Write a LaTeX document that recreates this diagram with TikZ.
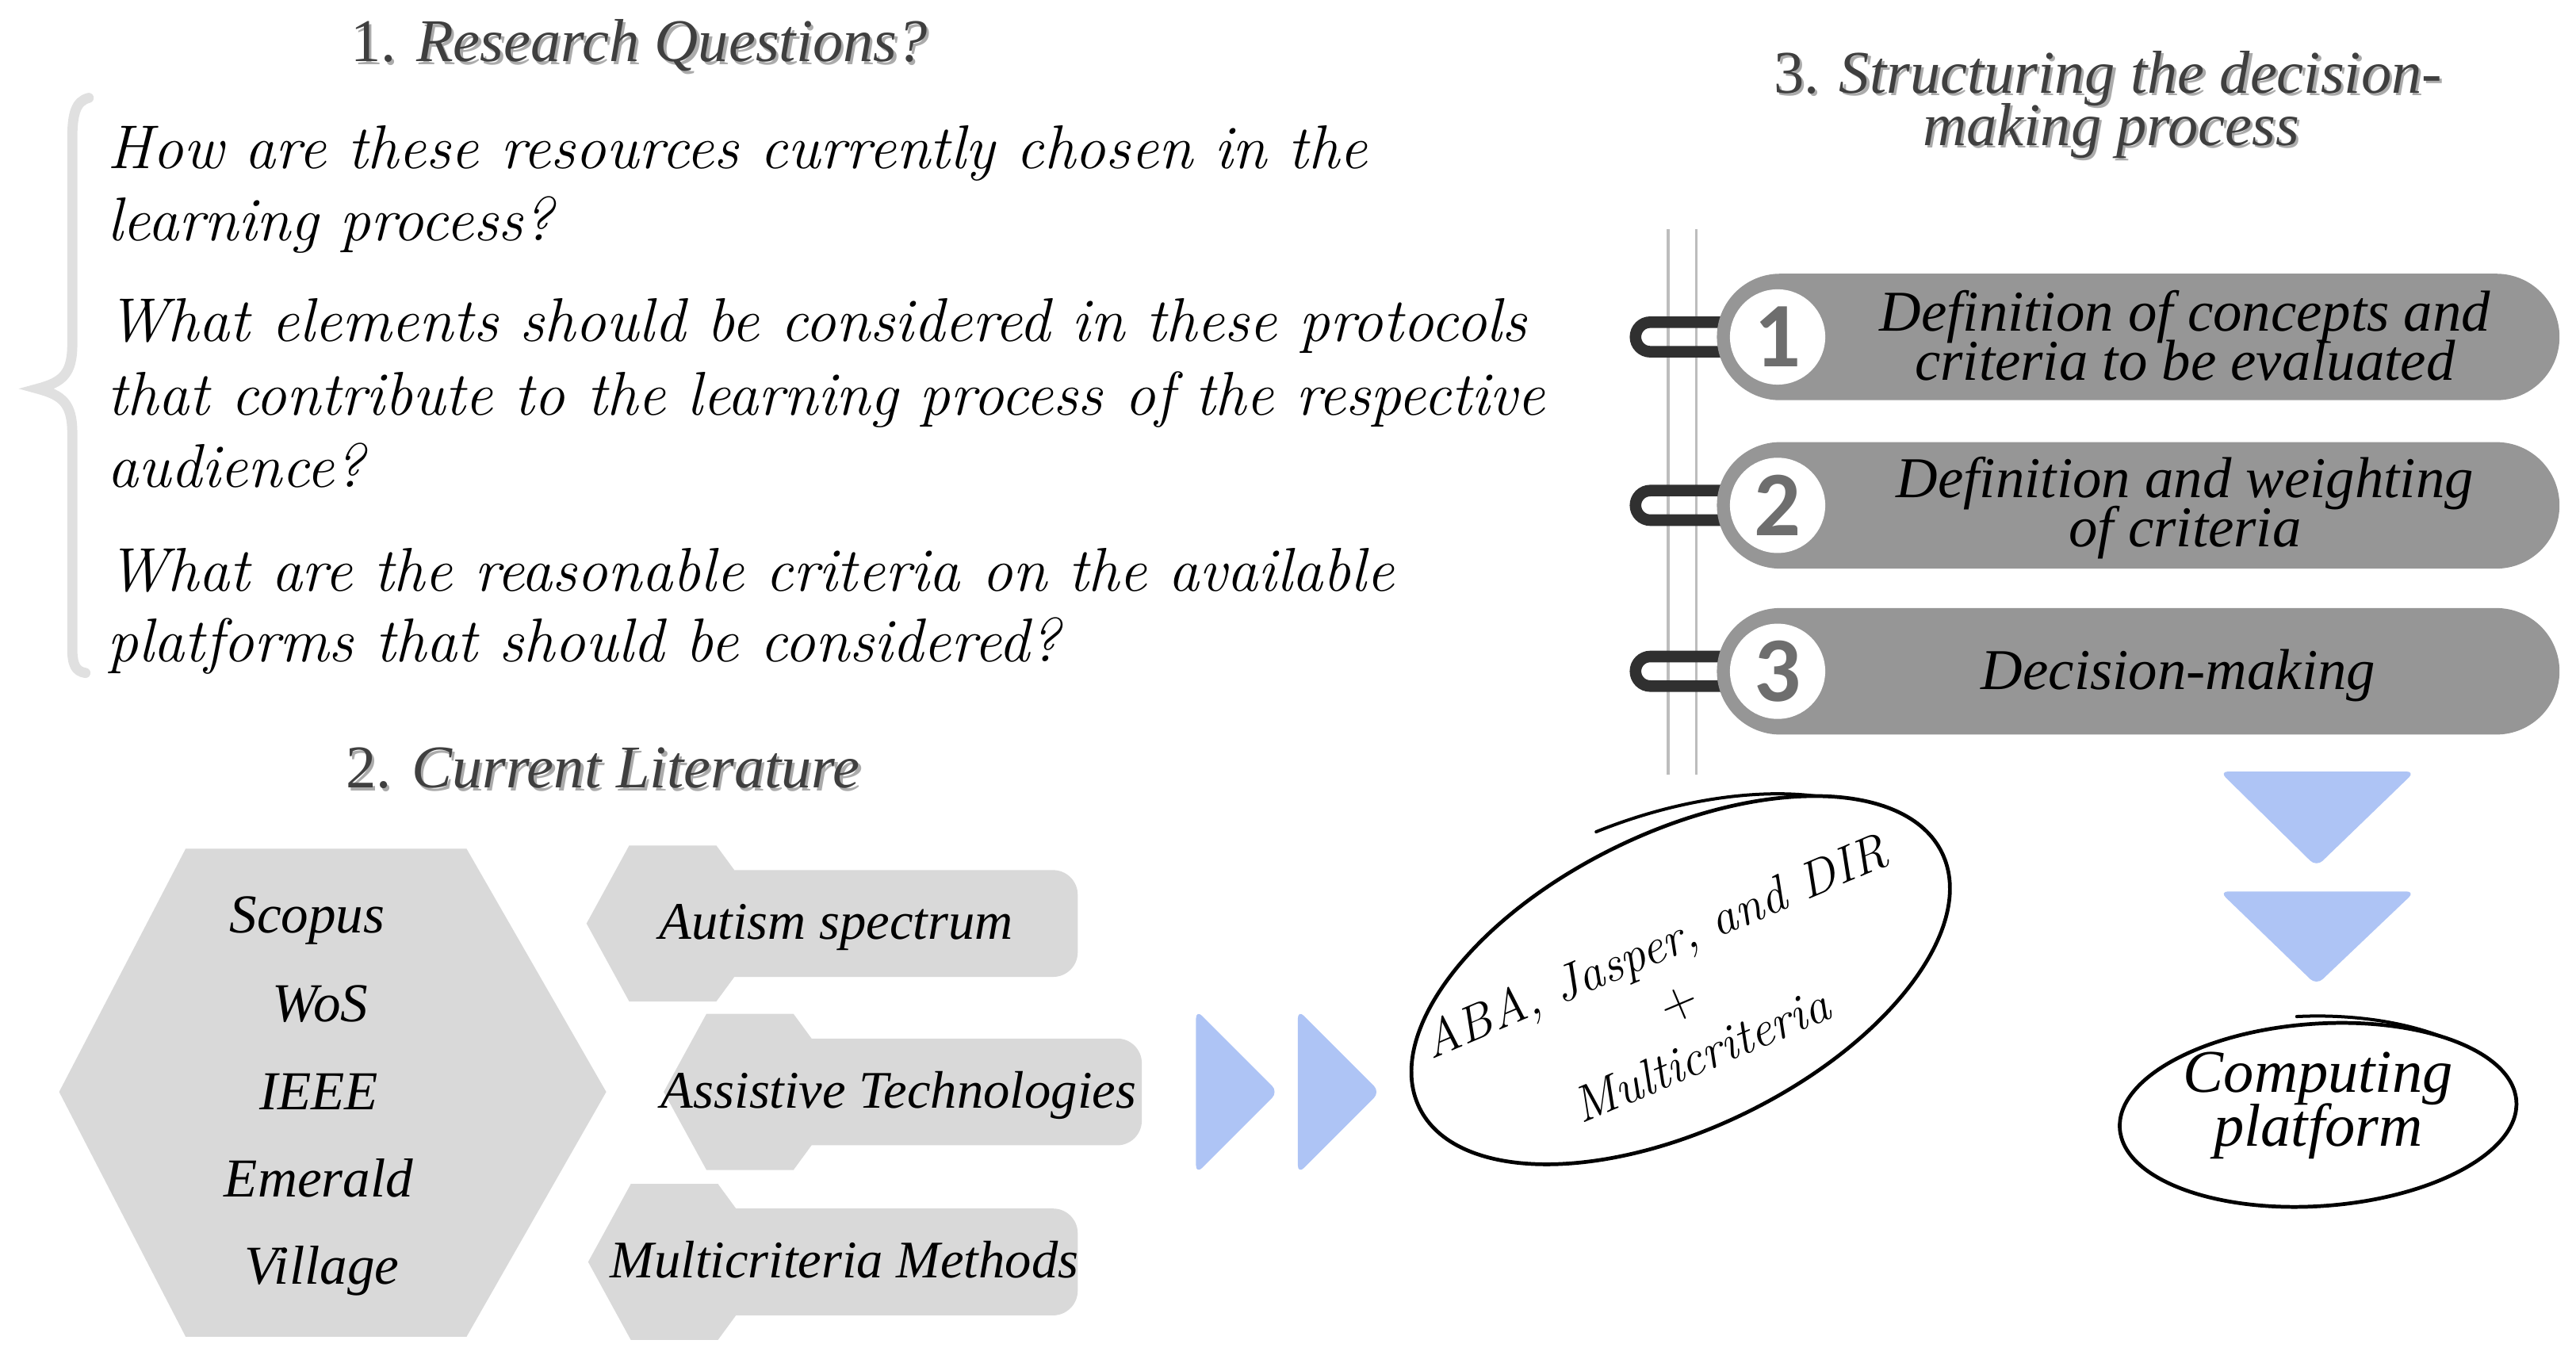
\documentclass[tikz,border=0pt]{standalone}
\usepackage{fix-cm}
\usepackage{fontspec}
\setmainfont{Latin Modern Roman}
\newfontfamily\humf{Liberation Serif}
\newfontfamily\numf{Carlito}
\usetikzlibrary{shapes.geometric}
\definecolor{bracegray}{HTML}{E0E0E0}
\definecolor{hexgray}{HTML}{D9D9D9}
\definecolor{pillgray}{HTML}{969696}
\definecolor{chevblue}{HTML}{AEC4F5}
\definecolor{titlecol}{HTML}{3F3F3F}
\definecolor{shadowcol}{HTML}{ABABAB}
\definecolor{hookcol}{HTML}{303030}
\definecolor{numcol}{HTML}{6E6E6E}
\definecolor{railcol}{HTML}{BDBDBD}
\newcommand\tightls{\lineskiplimit=-30pt\lineskip=0pt}
\newcommand\tagshape[3]{%
  \fill[hexgray] (#1,#2) -- ({#1+26},{#2+47.5}) -- ({#1+79},{#2+47.5}) -- ({#1+90},{#2+32.5})
     -- ({#1+90},{#2-32.5}) -- ({#1+79},{#2-47.5}) -- ({#1+26},{#2-47.5}) -- cycle;
  \fill[hexgray, rounded corners=0.3cm] ({#1+60},{#2-32.5}) rectangle (#3,{#2+32.5});}
\begin{document}
\begin{tikzpicture}[x=0.02cm,y=0.02cm,
  qtext/.style={anchor=base west, inner sep=0pt, font=\fontsize{21.4}{24}\selectfont\itshape},
  ttl/.style={anchor=base, inner sep=0pt, text=titlecol, font=\humf\fontsize{21}{18}\selectfont\itshape},
  ttlshadow/.style={ttl, text=shadowcol, xshift=0.9pt, yshift=-0.9pt},
  word/.style={anchor=base, inner sep=0pt, font=\humf\fontsize{19}{22}\selectfont\itshape},
  tagword/.style={anchor=base, inner sep=0pt, font=\humf\fontsize{18.3}{22}\selectfont\itshape},
  pilltext/.style={anchor=base, inner sep=0pt, font=\humf\fontsize{20}{22}\selectfont\itshape},
  pill/.style={fill=pillgray, rounded corners=0.77cm, minimum width=10.26cm, minimum height=1.54cm, inner sep=0pt},
  numcircle/.style={circle, fill=white, minimum size=1.16cm, inner sep=0pt, text=numcol, font=\numf\bfseries\fontsize{32}{32}\selectfont},
  hook/.style={draw=hookcol, line width=4pt},
  chev/.style={fill=chevblue, rounded corners=3pt},
  rail/.style={draw=railcol, line width=1pt},
  sketch/.style={draw=black, line width=1.3pt},
]
\useasboundingbox (0,0) rectangle (1568,829.6);

% ---------- 1. Research questions ----------
\node[ttlshadow] (t1s) at (389,792) {\textup{1.} Research Questions?};
\node[ttl] (t1) at (389,792) {\textup{1.} Research Questions?};

\draw[bracegray, line width=3.5pt, line cap=round]
  (54,770) .. controls (46,768) and (44,760) .. (44,745) -- (44,620)
  .. controls (44,602) and (38,597) .. (23,593)
  .. controls (38,589) and (44,584) .. (44,566) -- (44,435)
  .. controls (44,425) and (46,421) .. (52,420);

\node[qtext] (q1) at (65,727) {How are these resources currently chosen in the};
\node[qtext] (q2) at (65,683) {learning process?};
\node[qtext] (q3) at (65,622) {What elements should be considered in these protocols};
\node[qtext] (q4) at (65,577) {that contribute to the learning process of the respective};
\node[qtext] (q5) at (65,533) {audience?};
\node[qtext] (q6) at (65,470) {What are the reasonable criteria on the available};
\node[qtext] (q7) at (65,427) {platforms that should be considered?};

% ---------- 2. Current literature ----------
\node[ttlshadow] (t2s) at (367,350) {\textup{2.} Current Literature};
\node[ttl] (t2) at (367,350) {\textup{2.} Current Literature};

\fill[hexgray] (113,313) -- (284,313) -- (369,165) -- (284,16) -- (113,16) -- (36,165) -- cycle;
\node[word] (w1) at (187,262) {Scopus};
\node[word] (w2) at (195,208) {WoS};
\node[word] (w3) at (194,154) {IEEE};
\node[word] (w4) at (194,101) {Emerald};
\node[word] (w5) at (196,48) {Village};

\tagshape{357}{267.5}{656}
\tagshape{404}{165}{695}
\tagshape{358}{61.5}{656}
\node[tagword] (g1) at (509,258) {Autism spectrum};
\node[tagword] (g2) at (547,155) {Assistive Technologies};
\node[tagword] (g3) at (514,52) {Multicriteria Methods};

% chevrons to the right
\fill[chev] (728,215) -- (778,165) -- (728,115) -- cycle;
\fill[chev] (790,215) -- (840,165) -- (790,115) -- cycle;

% ellipse ABA
\node[sketch, ellipse, rotate=26, minimum width=7.08cm, minimum height=3.6cm, inner sep=0pt] (e1) at (1023,233) {};
\draw[sketch, line width=1.1pt, line cap=round, shift={(1023,233)}, rotate=26]
  plot[domain=46:92, samples=30, smooth] ({(177+0.3*(\x-46))*cos(\x)}, {(90+0.3*(\x-46))*sin(\x)});
\node[rotate=23, align=center, inner sep=0pt, font=\fontsize{17.5}{20.5}\selectfont\itshape\tightls] (t1b) at (1021,221)
  {ABA, Jasper, and DIR\\$+$\\Multicriteria};

% ---------- 3. Structuring ----------
\node[ttlshadow] (t3as) at (1283,773) {\textup{3.} Structuring the decision-};
\node[ttl] (t3a) at (1283,773) {\textup{3.} Structuring the decision-};
\node[ttlshadow] (t3bs) at (1285,741) {making process};
\node[ttl] (t3b) at (1285,741) {making process};

\draw[rail] (1015.5,690) -- (1015.5,358);
\draw[rail] (1032.5,690) -- (1032.5,358);

\foreach \yc in {624.5, 522, 421}{
  \draw[hook] (1052,\yc+9) -- (1004.5,\yc+9) arc[start angle=90, end angle=270, radius=0.18cm] -- (1052,\yc-9);
}
\node[pill] (p1) at (1301.5,624.5) {};
\node[pill] (p2) at (1301.5,522) {};
\node[pill] (p3) at (1301.5,421) {};
\node[numcircle] (n1) at (1082,624.5) {1};
\node[numcircle] (n2) at (1082,522) {2};
\node[numcircle] (n3) at (1082,421) {3};

\node[pilltext] (s1a) at (1330,628) {Definition of concepts and};
\node[pilltext] (s1b) at (1330,598) {criteria to be evaluated};
\node[pilltext] (s2a) at (1330,527) {Definition and weighting};
\node[pilltext] (s2b) at (1330,497) {of criteria};
\node[pilltext] (s3) at (1326,410) {Decision-making};

% chevrons down
\fill[chev] (1351,360) -- (1470,360) -- (1410,302) -- cycle;
\fill[chev] (1351,287) -- (1470,287) -- (1410,230) -- cycle;

% ellipse computing platform
\node[sketch, ellipse, rotate=4, minimum width=4.84cm, minimum height=2.22cm, inner sep=0pt] (e2) at (1411,151) {};
\draw[sketch, line width=1.1pt, line cap=round, shift={(1411,151)}, rotate=4]
  plot[domain=50:94, samples=30, smooth] ({(121+0.12*(\x-50))*cos(\x)}, {(55.5+0.12*(\x-50))*sin(\x)});
\node[pilltext, font=\humf\fontsize{21}{22}\selectfont\itshape] (c1) at (1411,165) {Computing};
\node[pilltext, font=\humf\fontsize{21}{22}\selectfont\itshape] (c2) at (1411,132) {platform};
\end{tikzpicture}
\end{document}
